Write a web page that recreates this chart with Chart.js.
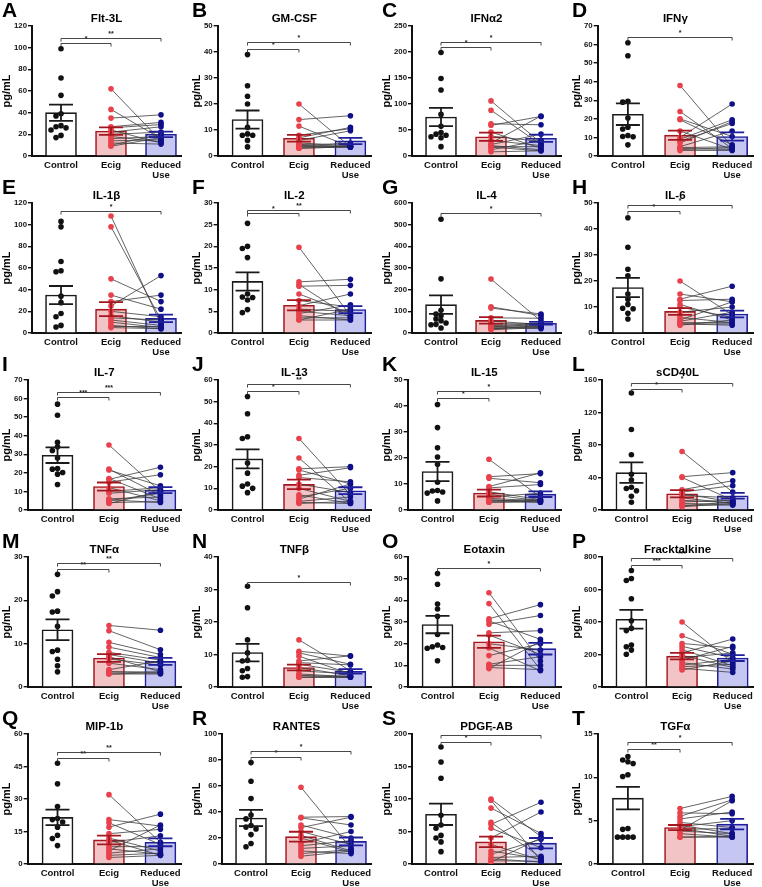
<!DOCTYPE html>
<html>
<head>
<meta charset="utf-8">
<script src="https://cdn.jsdelivr.net/npm/chart.js@4.4.1/dist/chart.umd.min.js"></script>
<style>
  body { margin: 0; background: #fff; width: 762px; height: 887px; position: relative; overflow: hidden; }
  canvas { position: absolute; }
</style>
</head>
<body>
<script>
// panel data (pg/mL)
const letters = ['A','B','C','D','E','F','G','H','I','J','K','L','M','N','O','P','Q','R','S','T'];
const titles = ['Flt-3L','GM-CSF','IFNα2','IFNγ','IL-1β','IL-2','IL-4','IL-6','IL-7','IL-13',
  'IL-15','sCD40L','TNFα','TNFβ','Eotaxin','Fracktalkine','MIP-1b','RANTES','PDGF-AB','TGFα'];
const groups = ['Control', 'Ecig', ['Reduced', 'Use']];
const yMax = [120, 50, 250, 70, 120, 30, 600, 50, 70, 60, 50, 160, 30, 40, 60, 800, 60, 100, 200, 15];
const yStep = [20, 10, 50, 10, 20, 5, 100, 10, 10, 10, 10, 40, 10, 10, 10, 200, 15, 20, 50, 5];

const barMeans = [
  [40, 23, 20], [14, 6.8, 5.8], [75, 37, 34], [22.5, 11.2, 10.5], [35, 22, 13.5],
  [11.9, 6.4, 5.4], [131, 58, 45], [17.5, 8.3, 7.3], [29.5, 12.6, 10.7], [23.6, 11.8, 8.9],
  [14.8, 6.5, 6.1], [46, 20, 17.5], [13.2, 6.7, 5.9], [10.6, 6, 4.8], [28.8, 20.9, 17.7],
  [417, 190, 178], [21.5, 11.1, 10], [35.4, 21, 17.4], [76.5, 34, 32], [7.6, 4.2, 4.6]
];
const barSems = [
  [7.5, 3.5, 2.5], [3.5, 1.3, 1.2], [17.5, 8, 7], [5.8, 2.5, 2.2], [8.4, 6.5, 3.5],
  [2.1, 1.2, 0.8], [43, 15, 6], [3.7, 1.3, 1.3], [4.2, 2.2, 1.6], [4.4, 2.2, 1.6],
  [3.7, 1.3, 1.1], [12.5, 4.5, 3.5], [2.4, 0.9, 0.8], [2.7, 0.9, 0.7], [4, 2.8, 2.7],
  [58, 20, 18], [3.6, 2, 1.8], [6.2, 3.8, 3], [16.5, 8, 8], [1.3, 0.3, 0.6]
];

const controlVals = [
  [99, 72, 56, 39, 37, 28, 27, 26, 24, 19, 17],
  [39, 27, 23, 20, 11, 8.5, 8, 8, 6, 3.5],
  [199, 149, 127, 80, 57, 45, 42, 40, 37, 35, 18],
  [61, 54, 29.5, 29, 20.5, 15.5, 14.5, 11, 10.5, 10.3, 6],
  [103, 98, 66, 57.5, 56.5, 34, 28, 18, 15, 7, 5.5],
  [25.3, 20, 19.5, 17.4, 9, 8.3, 8.2, 7.6, 5.4, 4.7],
  [525, 250, 105, 88, 80, 65, 57, 46, 40, 38, 23],
  [44.3, 33, 24.5, 22, 15, 13, 11, 9.5, 9.3, 7.6, 5.4],
  [57, 51, 36.5, 34, 32, 28, 22.3, 22, 20.2, 19.3, 13.7],
  [52.4, 44.4, 33.8, 33, 21.7, 17, 12, 11, 10, 8],
  [40.6, 31.7, 23.9, 20.4, 17.6, 10.7, 7.5, 7.3, 6.9, 6.5, 3.5],
  [144, 99, 68, 44, 37, 28, 26.5, 23.7, 17, 9.5],
  [26, 22, 21, 17.5, 17.3, 14, 8.5, 8.2, 6.4, 4.9, 3.5],
  [31, 24.4, 14.5, 10.5, 8.2, 8, 5.7, 5, 3.2, 3],
  [52.4, 47.4, 38.3, 36, 32.6, 24.2, 19.4, 18.6, 18.2, 17.9, 12.1],
  [717, 668, 655, 543, 407, 361, 347, 258, 248, 227, 202],
  [46.5, 37, 26.5, 21, 20.5, 19.4, 17, 13.3, 11.8, 8.5],
  [78, 63.6, 50.3, 37.7, 34.7, 29.6, 28.4, 27, 22.6, 15.8, 13.3],
  [180, 157, 132, 75, 60, 55, 44, 40, 34, 19],
  [12.4, 12, 11.8, 11.6, 10.3, 10.1, 4.1, 4, 3.1, 3.1, 3.1, 3.1]
];

// ecig[i] and reduced[i] are the same subject
const ecigVals = [
  [62, 43, 35, 27, 26, 24, 22, 20, 18, 16, 14, 12, 10, 9],
  [20, 14, 11.5, 8, 7, 6, 5, 4.5, 4, 4, 3.5, 3.5, 3, 3],
  [106, 88, 62, 59, 46, 38, 30, 25, 22, 20, 18, 17, 12, 8],
  [38, 24, 20, 19.5, 13.5, 10, 9, 8, 7, 5, 4.5, 4, 3.5, 3],
  [108, 98, 50, 35, 29, 25, 20, 16, 14, 12, 10, 7, 6, 5],
  [19.8, 11.8, 11.2, 10.8, 9, 7.5, 6.3, 5.5, 5, 4.5, 4, 3.5, 3, 3],
  [249, 121, 115, 70, 55, 45, 40, 35, 30, 28, 25, 20, 18, 15],
  [20, 15, 13, 12.5, 11, 10, 8, 6, 5, 4.5, 4, 3.5, 3.5, 3],
  [35, 22, 21.5, 17, 16.5, 15, 12, 10, 9, 6, 5.5, 5, 4, 3.5],
  [33, 24, 19, 18.5, 16, 15, 12, 10, 7, 6, 5, 4, 3.5, 3],
  [19.5, 12.8, 12.2, 9, 8.5, 7, 6, 5, 4.5, 4, 3.5, 3.5, 3, 3],
  [72, 41, 40, 25, 22, 20, 18, 15, 12, 10, 8, 6, 5, 4],
  [14.2, 13, 10.3, 9.2, 8, 7.5, 7, 6.5, 5.5, 4, 3.5, 3.5, 3, 3],
  [14.5, 11, 10.5, 9.5, 8, 7.5, 7, 6, 5, 4, 3.5, 3.5, 3, 3],
  [43.5, 38.5, 31.5, 30.5, 29, 25, 24, 20, 18, 14.5, 10.5, 10, 9, 8.5],
  [400, 315, 268, 250, 230, 210, 195, 180, 165, 150, 135, 125, 115, 105],
  [32, 20.5, 19, 17, 14, 12, 11, 10, 8, 7, 6, 5, 4, 3],
  [59, 36, 35.5, 30, 28, 25, 22, 20, 16, 14, 12, 10, 8, 6],
  [100, 98, 86, 64, 61, 55, 40, 30, 20, 15, 10, 8, 5, 3],
  [6.4, 5.9, 5.5, 5.2, 4.8, 4.5, 4.3, 4.1, 4, 3.9, 3.8, 3.5, 3.1, 3.1]
];
const reducedVals = [
  [14, 16, 38, 31, 29, 12, 27, 22, 13, 18, 15, 11, 20, 17],
  [3.5, 15.5, 3.5, 10.5, 11, 9.7, 4, 3.5, 5, 3.5, 3.5, 4, 3.5, 3.5],
  [25, 22, 60, 76, 15, 28, 20, 77, 42, 12, 18, 10, 30, 10],
  [5, 4, 10.5, 6, 3.5, 28, 19.5, 17.5, 18.5, 13.5, 5, 3.5, 4.5, 3],
  [8, 12, 29, 22, 35, 53, 15, 10, 12, 7, 5, 4, 6, 4],
  [4, 12.4, 3.5, 11, 4.5, 6, 9, 5, 4, 6.5, 3, 3.5, 5.5, 3],
  [55, 80, 88, 68, 40, 35, 45, 30, 25, 40, 20, 30, 35, 25],
  [7, 12, 18, 13, 5, 6, 10, 4, 12, 8, 4, 3.5, 3, 5],
  [10, 8, 13, 6, 23, 19, 5, 12, 11, 7, 4, 9, 4.5, 10],
  [7, 3.5, 20, 12, 19.5, 13, 8, 4, 3, 10, 12, 6, 3, 4],
  [5, 14, 10.5, 14.3, 9.8, 4, 3.5, 6.5, 3.5, 3, 4, 3.5, 3, 3.5],
  [22, 46, 12, 36, 30, 10, 15, 8, 9, 12, 7, 6, 10, 8],
  [13.1, 8.6, 7.5, 6.8, 6.2, 5.5, 3.5, 5, 4, 6, 3.5, 3.2, 3, 3.3],
  [5, 9.5, 7, 4, 9.6, 6.8, 4.5, 3.5, 4, 3.2, 3, 3.3, 3, 3],
  [12, 8, 38, 22, 33, 26, 15, 17, 7.5, 20, 14, 10, 8, 21],
  [150, 200, 240, 180, 130, 295, 120, 210, 250, 110, 170, 140, 90, 160],
  [10, 17.5, 9, 23, 16, 6, 4, 13, 8, 4.5, 18, 7, 5, 4],
  [12, 36.5, 30, 20, 36, 15, 10, 9, 25, 18, 14, 8, 11, 10],
  [42, 5, 47, 10, 95, 25, 80, 6, 8, 38, 12, 3, 4, 40],
  [7.8, 5.8, 7.4, 6, 4.2, 3.5, 5, 3.2, 4.1, 7.3, 3.5, 3.1, 3.2, 3.1]
];

// significance brackets from Control: [target group, level, stars]
const sigBrackets = [
  [[1, 104, '*'], [2, 109, '**']],
  [[1, 41.2, '*'], [2, 43.7, '*']],
  [[1, 209, '*'], [2, 220, '*']],
  [[2, 64, '*']],
  [[2, 113, '*']],
  [[1, 27.6, '*'], [2, 28.4, '**']],
  [[2, 556, '*']],
  [[1, 47, '*'], [2, 49.2, '*']],
  [[1, 60.7, '***'], [2, 63.8, '***']],
  [[1, 55, '*'], [2, 58, '**']],
  [[1, 43, '*'], [2, 45.6, '*']],
  [[1, 149, '*'], [2, 156.5, '*']],
  [[1, 27.2, '**'], [2, 28.7, '**']],
  [[2, 32.4, '*']],
  [[2, 54.8, '*']],
  [[1, 750, '***'], [2, 791, '***']],
  [[1, 48.9, '**'], [2, 51.7, '**']],
  [[1, 82, '*'], [2, 87, '*']],
  [[1, 187.5, '*'], [2, 198, '*']],
  [[1, 13.3, '**'], [2, 14.05, '*']]
];

const barFill = ['#ffffff', '#f3c4c6', '#c6c6f2'];
const barEdge = ['#1a1a1a', '#a5171f', '#1f1f9c'];
const dotColor = ['#111111', '#e9414b', '#0f0f8a'];
const FONT = "'Liberation Sans', Arial, sans-serif";

Chart.defaults.font.family = FONT;
Chart.defaults.font.weight = 'bold';
Chart.defaults.color = '#111';

// spread control dots sideways where they would overlap
function spreadDots(vals, range) {
  const placed = [];
  const slots = [0, -0.1, 0.1, -0.2, 0.2, -0.3, 0.3];
  return vals.map(v => {
    for (const s of slots) {
      if (!placed.some(p => Math.abs(p.x - s) < 0.09 && Math.abs(p.y - v) < range * 0.035)) {
        placed.push({ x: s, y: v });
        return s;
      }
    }
    return 0;
  });
}

const panelDecor = {
  id: 'panelDecor',
  afterDatasetsDraw(chart, args, opts) {
    const p = opts.panel;
    const { ctx } = chart;
    const xs = chart.scales.x, ys = chart.scales.y;
    ctx.save();
    // error bars (SEM)
    for (let g = 0; g < 3; g++) {
      const px = xs.getPixelForValue(g);
      const m = barMeans[p][g], s = barSems[p][g];
      const top = ys.getPixelForValue(m + s), bot = ys.getPixelForValue(m - s);
      ctx.strokeStyle = barEdge[g];
      ctx.lineWidth = 1.8;
      ctx.beginPath();
      ctx.moveTo(px, top); ctx.lineTo(px, bot);
      ctx.moveTo(px - 12, top); ctx.lineTo(px + 12, top);
      ctx.moveTo(px - 12, bot); ctx.lineTo(px + 12, bot);
      ctx.stroke();
    }
    // brackets
    ctx.strokeStyle = '#333';
    ctx.fillStyle = '#222';
    ctx.lineWidth = 0.9;
    ctx.font = 'bold 7px ' + FONT;
    ctx.textAlign = 'center';
    ctx.textBaseline = 'bottom';
    sigBrackets[p].forEach(([to, level, label]) => {
      const x0 = xs.getPixelForValue(0), x1 = xs.getPixelForValue(to);
      const yy = Math.round(ys.getPixelForValue(level)) + 0.5;
      ctx.beginPath();
      ctx.moveTo(x0, yy + 3); ctx.lineTo(x0, yy); ctx.lineTo(x1, yy); ctx.lineTo(x1, yy + 3);
      ctx.stroke();
      ctx.fillText(label, (x0 + x1) / 2, yy - 0.5);
    });
    ctx.restore();
  },
  afterDraw(chart, args, opts) {
    const p = opts.panel;
    const { ctx, chartArea } = chart;
    ctx.save();
    ctx.fillStyle = '#000';
    ctx.textBaseline = 'alphabetic';
    ctx.textAlign = 'left';
    ctx.font = 'bold 21px ' + FONT;
    ctx.fillText(letters[p], 2, 17);
    ctx.textAlign = 'center';
    ctx.font = 'bold 11.5px ' + FONT;
    ctx.fillText(titles[p], (chartArea.left + chartArea.right) / 2, 22);
    ctx.font = 'bold 11px ' + FONT;
    ctx.translate(10, (chartArea.top + chartArea.bottom) / 2);
    ctx.rotate(-Math.PI / 2);
    ctx.fillText('pg/mL', 0, 0);
    ctx.restore();
  }
};

const colX = [0, 190, 380, 570];
const colW = [190, 190, 190, 192];
const rowY = [0, 177, 354, 531, 708];

for (let p = 0; p < 20; p++) {
  const cv = document.createElement('canvas');
  const c = p % 4, r = Math.floor(p / 4);
  cv.width = colW[c];
  cv.height = 181;
  cv.style.left = colX[c] + 'px';
  cv.style.top = rowY[r] + 'px';
  document.body.appendChild(cv);

  const jitter = spreadDots(controlVals[p], yMax[p]);
  const pairLines = [];
  ecigVals[p].forEach((e, i) => {
    pairLines.push({ x: 1, y: e }, { x: 2, y: reducedVals[p][i] }, { x: 1.5, y: null });
  });

  new Chart(cv, {
    data: {
      datasets: [
        {
          type: 'bar',
          data: barMeans[p].map((m, g) => ({ x: g, y: m })),
          backgroundColor: barFill,
          borderColor: barEdge,
          borderWidth: 1.6,
          barThickness: 31,
          order: 4
        },
        {
          type: 'line',
          data: pairLines,
          borderColor: '#3c3c3c',
          borderWidth: 0.8,
          pointRadius: 0,
          spanGaps: false,
          order: 3
        },
        {
          type: 'scatter',
          data: controlVals[p].map((v, i) => ({ x: jitter[i], y: v })),
          pointRadius: 2.8,
          pointBorderWidth: 0,
          pointBackgroundColor: dotColor[0],
          order: 1
        },
        {
          type: 'scatter',
          data: ecigVals[p].map(v => ({ x: 1, y: v })),
          pointRadius: 2.8,
          pointBorderWidth: 0,
          pointBackgroundColor: dotColor[1],
          order: 1
        },
        {
          type: 'scatter',
          data: reducedVals[p].map(v => ({ x: 2, y: v })),
          pointRadius: 2.8,
          pointBorderWidth: 0,
          pointBackgroundColor: dotColor[2],
          order: 1
        }
      ]
    },
    options: {
      responsive: false,
      animation: false,
      devicePixelRatio: 1,
      layout: { padding: { left: 13, top: 26, right: 9, bottom: 0 } },
      plugins: {
        legend: { display: false },
        tooltip: { enabled: false },
        panelDecor: { panel: p }
      },
      scales: {
        x: {
          type: 'linear',
          offset: false,
          bounds: 'data',
          min: -0.58,
          max: 2.4,
          afterBuildTicks: s => { s.ticks = [{ value: 0 }, { value: 1 }, { value: 2 }]; },
          afterFit: s => { s.height = 25; },
          grid: { display: false, drawTicks: false },
          border: { color: '#111', width: 2 },
          ticks: {
            autoSkip: false,
            maxRotation: 0,
            padding: 4,
            font: { size: 9.5, weight: 'bold', lineHeight: 1.05 },
            callback: v => groups[Math.round(v)]
          }
        },
        y: {
          min: 0,
          max: yMax[p],
          grid: { drawOnChartArea: false, drawTicks: true, tickLength: 4, color: '#111', lineWidth: 1.4 },
          border: { color: '#111', width: 2 },
          ticks: { stepSize: yStep[p], padding: 1, font: { size: 7.8, weight: 'bold' } }
        }
      }
    },
    plugins: [panelDecor]
  });
}
</script>
</body>
</html>
